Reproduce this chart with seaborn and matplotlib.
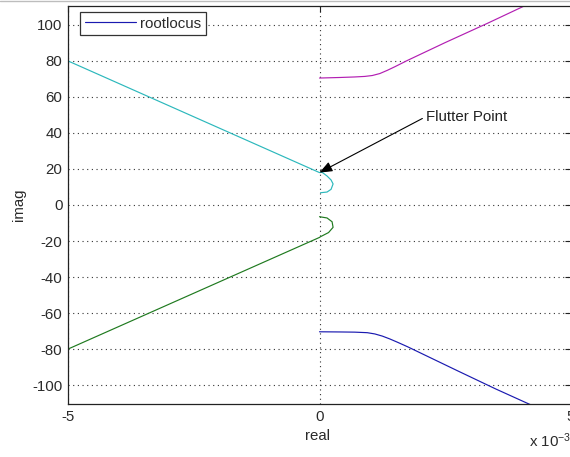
import numpy as np
import pandas as pd
import matplotlib
matplotlib.use("Agg")
import matplotlib.pyplot as plt
from matplotlib.lines import Line2D
import seaborn as sns

# Root locus branches; real parts are in units of 1e-3
cyan_real = [-5.0, -4.0, -3.0, -2.0, -1.0, -0.5, 0.0, 0.05, 0.15, 0.23, 0.27, 0.23, 0.15, 0.02]
cyan_imag = [80.0, 67.6, 55.2, 42.8, 30.4, 24.2, 18.0, 18.2, 16.1, 13.9, 11.7, 8.7, 7.2, 6.8]

green_real = [0.0, 0.15, 0.25, 0.27, 0.18, 0.02, 0.0, -0.5, -1.0, -2.0, -3.0, -4.0, -5.0]
green_imag = [-6.5, -7.2, -9.3, -12.4, -15.3, -17.6, -18.0, -24.2, -30.4, -42.8, -55.2, -67.6, -80.0]

magenta_real = [0.0, 0.4, 0.7, 0.9, 1.05, 1.2, 1.35, 1.5, 1.75, 2.5, 3.34, 4.07, 4.6]
magenta_imag = [70.5, 70.8, 71.1, 71.4, 71.9, 73.0, 74.8, 76.8, 80.3, 90.2, 100.9, 110.5, 117.5]

blue_real = [0.0, 0.42, 0.7, 0.95, 1.1, 1.25, 1.4, 1.55, 1.75, 2.74, 3.5, 4.14, 4.6]
blue_imag = [-70.4, -70.5, -70.6, -70.9, -71.6, -72.8, -74.4, -76.2, -78.7, -92.0, -102.1, -110.2, -116.0]

branch_colors = {
    "blue": "#1a1ab0",
    "green": "#1f7a1f",
    "magenta": "#b21eb2",
    "cyan": "#2cb8bc",
}

flutter_real, flutter_imag = 0.0, 18.0
flutter_text = "Flutter Point"
flutter_text_pos = (2.11, 49.0)

x_ticks = [-5, 0, 5]
y_ticks = [-100, -80, -60, -40, -20, 0, 20, 40, 60, 80, 100]

frames = []
for name, re_, im_ in [("blue", blue_real, blue_imag),
                       ("green", green_real, green_imag),
                       ("magenta", magenta_real, magenta_imag),
                       ("cyan", cyan_real, cyan_imag)]:
    frames.append(pd.DataFrame({"real": re_, "imag": im_, "branch": name,
                                "order": np.arange(len(re_))}))
df = pd.concat(frames, ignore_index=True)

sns.set_theme(style="white")
plt.rcParams["font.family"] = ["Liberation Sans", "DejaVu Sans"]
plt.rcParams["mathtext.fontset"] = "custom"
plt.rcParams["mathtext.rm"] = "Liberation Sans"
plt.rcParams["mathtext.it"] = "Liberation Sans"

W, H = 570, 457
fig = plt.figure(figsize=(W / 100, H / 100), dpi=100)
fig.patch.set_facecolor("white")
ax_left, ax_right, ax_top, ax_bottom = 68, 571, 6, 404
ax = fig.add_axes([ax_left / W, 1 - ax_bottom / H, (ax_right - ax_left) / W, (ax_bottom - ax_top) / H])
ax.set_facecolor("white")

for name in ["blue", "green", "magenta", "cyan"]:
    sub = df[df["branch"] == name]
    sns.lineplot(data=sub, x="real", y="imag", sort=False, estimator=None,
                 color=branch_colors[name], lw=0.85, ax=ax, legend=False)

ax.set_xlim(-5, 5)
ax.set_ylim(-110.5, 110.5)
ax.set_xticks(x_ticks)
ax.set_yticks(y_ticks)
ax.set_xticklabels([str(t) for t in x_ticks])
ax.set_yticklabels([str(t) for t in y_ticks])

ax.grid(True, color="#333333", linestyle=(0, (1, 3.2)), linewidth=0.8)
for side in ["left", "bottom", "top", "right"]:
    ax.spines[side].set_visible(True)
    ax.spines[side].set_color("#222222")
    ax.spines[side].set_linewidth(0.9)

ax.tick_params(axis="both", direction="in", length=4, width=0.8, color="#222222",
               labelsize=10.8, labelcolor="#2a2a2a", top=True, right=True,
               pad=4)

ax.set_xlabel("real", fontsize=10.8, color="#2a2a2a")
ax.set_ylabel("imag", fontsize=10.8, color="#2a2a2a")
axw = ax_right - ax_left
axh = ax_bottom - ax_top
ax.xaxis.set_label_coords((318 - ax_left) / axw, -(429 - ax_bottom) / axh)
ax.yaxis.set_label_coords(-(ax_left - 26) / axw, 0.5)

# exponent of the real axis, sitting under the right end of the axis
fig.text(529 / W, 1 - 447 / H, r"x 10$^{-3}$", fontsize=10.8, color="#2a2a2a",
         ha="left", va="baseline")

ax.annotate(flutter_text, xy=(flutter_real, flutter_imag), xytext=flutter_text_pos,
            fontsize=10.8, color="#222222", ha="left", va="center",
            arrowprops=dict(arrowstyle="-|>,head_length=0.55,head_width=0.22",
                            color="black", lw=0.8, shrinkA=0, shrinkB=0,
                            mutation_scale=14, relpos=(0.0, 0.5)))

handle = Line2D([], [], color="#1a1ab0", lw=0.85)
leg = ax.legend([handle], ["rootlocus"], loc="upper left",
                bbox_to_anchor=(12 / axw, 1 - 6 / axh), borderaxespad=0,
                fontsize=10.8, handlelength=3.4, handletextpad=0.3,
                borderpad=0.3, fancybox=False, framealpha=1,
                edgecolor="#333333")
leg.get_frame().set_linewidth(0.9)
for t in leg.get_texts():
    t.set_color("#2a2a2a")

fig.add_artist(Line2D([0, 1], [1 - 0.5 / H, 1 - 0.5 / H], transform=fig.transFigure,
                      color="#bdbdbd", lw=1.0))

fig.savefig("out.png", dpi=100, facecolor="white")
